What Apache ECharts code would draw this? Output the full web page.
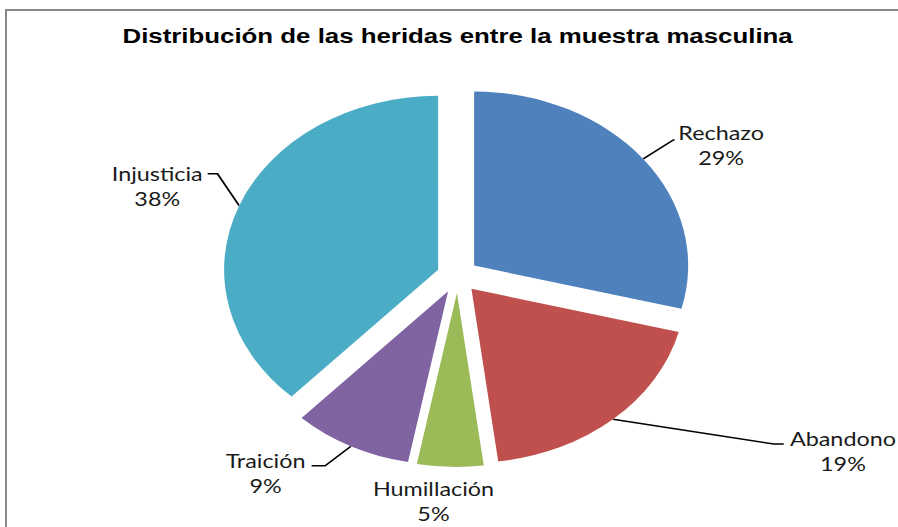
<!DOCTYPE html>
<html><head><meta charset="utf-8">
<script src="https://cdn.jsdelivr.net/npm/echarts@6/dist/echarts.min.js"></script>
<style>
html,body{margin:0;padding:0;width:898px;height:527px;overflow:hidden;background:#fff;}
#frame{position:absolute;left:5px;top:9px;width:1000px;height:700px;border:2px solid #878787;box-sizing:border-box;}
#chart{position:absolute;left:0;top:0;width:730px;height:527px;transform:scaleX(1.2301);transform-origin:0 0;}
</style></head><body>
<div id="frame"></div>
<div id="chart"></div>
<script>
const titleText = 'Distribución de las heridas entre la muestra masculina';
const categories = ['Rechazo', 'Abandono', 'Humillación', 'Traición', 'Injusticia'];
const values = [29, 19, 5, 9, 38];
const colors = ['#4F81BD', '#C0504D', '#9BBB59', '#8064A2', '#4BACC6'];

// label leader-line tuning per slice (layout only)
const LINE_H = 25;
const labelTune = {
  'Rechazo':     { length: 31, length2: 1,   dist: 3,     padding: [11, 0, 0, 0], line: true },
  'Abandono':    { length: 33, length2: 117, dist: 5,     padding: [15, 0, 0, 0], line: true, elbow: 8 },
  'Humillación': { length: 27, length2: 0,   dist: -36.5, padding: [15, 0, 0, 0], line: false },
  'Traición':    { length: 22, length2: 22,  dist: 5,     padding: [15, 0, 0, 0], line: true, elbow: 11 },
  'Injusticia':  { length: 20, length2: 7,   dist: 4,     padding: [0, 0, 24, 0], line: true, elbow: 8, raise: true }
};

const chart = echarts.init(document.getElementById('chart'), null, { renderer: 'svg' });

const data = categories.map((name, i) => {
  const t = labelTune[name];
  return {
    name: name,
    value: values[i],
    selected: true,
    itemStyle: { color: colors[i] },
    label: { distanceToLabelLine: t.dist, padding: t.padding },
    labelLine: { show: t.line, length: t.length, length2: t.length2 }
  };
});

chart.setOption({
  animation: false,
  backgroundColor: 'transparent',
  title: {
    text: titleText,
    left: 367,
    top: 20,
    textAlign: 'center',
    textStyle: { fontFamily: 'Liberation Sans', fontWeight: 'bold', fontSize: 21, color: '#000' }
  },
  series: [{
    type: 'pie',
    center: [372, 276],
    radius: 174,
    startAngle: 90,
    clockwise: true,
    selectedMode: 'multiple',
    selectedOffset: 17,
    avoidLabelOverlap: false,
    percentPrecision: 0,
    emphasis: { scale: false, disabled: true },
    select: { itemStyle: {} },
    label: {
      show: true,
      position: 'outside',
      alignTo: 'none',
      formatter: '{n|{b}}\n{n|{d}%}',
      fontFamily: 'Lato',
      fontSize: 19,
      color: '#1a1a1a',
      lineHeight: LINE_H,
      overflow: 'none',
      rich: {
        n: { align: 'center', fontFamily: 'Lato', fontSize: 19, lineHeight: LINE_H, color: '#1a1a1a' }
      }
    },
    labelLine: {
      show: true,
      smooth: false,
      lineStyle: { color: '#000', width: 1.5 }
    },
    labelLayout: function (params) {
      const t = labelTune[categories[params.dataIndex]];
      const pts = params.labelLinePoints;
      if (!t || !t.elbow || !pts || pts.length < 3) return {};
      // move the elbow of the leader close to the label (Excel style)
      const lift = t.raise ? LINE_H / 2 + (t.padding[2] - t.padding[0]) / 2 : 0;
      const endX = pts[2][0], endY = pts[2][1] - lift;
      const side = pts[2][0] < pts[0][0] ? 1 : -1;
      return {
        labelLinePoints: [pts[0].slice(), [endX + side * t.elbow, endY], [endX, endY]]
      };
    },
    itemStyle: { borderWidth: 0 },
    data: data
  }]
});
</script>
</body></html>
